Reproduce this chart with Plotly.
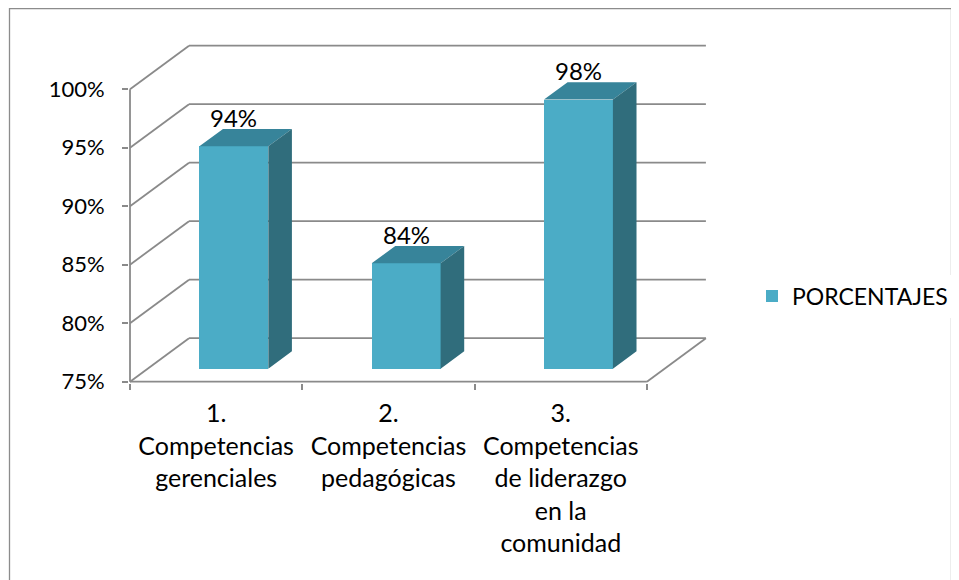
import plotly.graph_objects as go

# data
categorias = ["1.<br>Competencias<br>gerenciales",
              "2.<br>Competencias<br>pedagógicas",
              "3.<br>Competencias<br>de liderazgo<br>en la<br>comunidad"]
porcentajes = [94, 84, 98]
ticks_y = [75, 80, 85, 90, 95, 100]
serie = "PORCENTAJES"

# the page body has an 8px margin; targets below are in window px
OFF = 8
W, H = 959 - OFF, 580 - OFF
L, T = 129 - OFF, 40 - OFF
R = W - (709 - OFF)
B = H - (383 - OFF)
PX_X = 172.3          # px per category
PX_Y = 11.70          # px per percent point
FRONT_X0, FRONT_Y0 = 130.0 - OFF, 381.7 - OFF   # px where (0, 75) sits
DX = 59 / PX_X        # depth shift, x units
DY = 43.5 / PX_Y      # depth shift, percent units
D0, D1 = 0.3, 0.7     # bar depth (front, back)
BW = 0.4              # bar width

xr0 = (L - FRONT_X0) / PX_X
xr1 = xr0 + (W - L - R) / PX_X
yr0 = 75 - ((H - B) - FRONT_Y0) / PX_Y
yr1 = yr0 + (H - T - B) / PX_Y

FRONT = "#4BACC6"
TOP = "#37849A"
SIDE = "#306D7C"
GRID = "#8A8A8A"
LW = 1.8
FONT = "Lato"
FS = 24

n = len(porcentajes)
base = ticks_y[0]

fig = go.Figure()

# front faces
fig.add_trace(go.Bar(
    x=[i + 0.5 + D0 * DX for i in range(n)],
    y=[v - base for v in porcentajes],
    base=base + D0 * DY,
    width=BW,
    marker=dict(color=FRONT, line=dict(width=0)),
    name=serie,
    showlegend=True,
    hoverinfo="skip",
))

# top and side faces
tx, ty, sx, sy = [], [], [], []
for i, v in enumerate(porcentajes):
    x0, x1 = i + 0.5 - BW / 2, i + 0.5 + BW / 2
    tx += [x0 + D0 * DX, x1 + D0 * DX, x1 + D1 * DX, x0 + D1 * DX, x0 + D0 * DX, None]
    ty += [v + D0 * DY, v + D0 * DY, v + D1 * DY, v + D1 * DY, v + D0 * DY, None]
    sx += [x1 + D0 * DX, x1 + D1 * DX, x1 + D1 * DX, x1 + D0 * DX, x1 + D0 * DX, None]
    sy += [base + D0 * DY, base + D1 * DY, v + D1 * DY, v + D0 * DY, base + D0 * DY, None]
fig.add_trace(go.Scatter(x=tx, y=ty, fill="toself", fillcolor=TOP, mode="lines",
                         line=dict(width=0, color=TOP), showlegend=False, hoverinfo="skip"))
fig.add_trace(go.Scatter(x=sx, y=sy, fill="toself", fillcolor=SIDE, mode="lines",
                         line=dict(width=0, color=SIDE), showlegend=False, hoverinfo="skip"))

# walls and floor
shapes = []
line = dict(color=GRID, width=LW)
for t in ticks_y:
    shapes.append(dict(type="line", xref="x", yref="y", x0=0, y0=t, x1=DX, y1=t + DY, line=line, layer="below"))
    shapes.append(dict(type="line", xref="x", yref="y", x0=DX, y0=t + DY, x1=n + DX, y1=t + DY, line=line, layer="below"))
shapes.append(dict(type="line", xref="x", yref="y", x0=0, y0=base, x1=0, y1=ticks_y[-1], line=line, layer="below"))
shapes.append(dict(type="line", xref="x", yref="y", x0=0, y0=base, x1=n, y1=base, line=line, layer="below"))
shapes.append(dict(type="line", xref="x", yref="y", x0=n, y0=base, x1=n + DX, y1=base + DY, line=line, layer="below"))

# chart border
pw, ph = W - L - R, H - T - B
shapes.append(dict(type="rect", xref="paper", yref="paper",
                   x0=(9.5 - OFF - L) / pw, x1=(951.5 - OFF - L) / pw,
                   y0=(H - B - 600) / ph, y1=(H - B - (8.5 - OFF)) / ph,
                   line=dict(color="#8C8C8C", width=1.3), fillcolor="rgba(0,0,0,0)", layer="below"))

# value labels
for i, v in enumerate(porcentajes):
    fig.add_annotation(x=i + 0.5 + D0 * DX, y=v + D1 * DY, text=f"{v}%", showarrow=False,
                       yanchor="bottom", xanchor="center", yshift=-5,
                       font=dict(family=FONT, size=FS, color="black"))

fig.update_layout(
    width=W, height=H,
    margin=dict(l=L, r=R, t=T, b=B, autoexpand=False),
    paper_bgcolor="white", plot_bgcolor="white",
    shapes=shapes,
    font=dict(family=FONT, size=FS, color="black"),
    bargap=0,
    legend=dict(x=(752 - OFF - L) / pw, y=(H - B - (296 - OFF)) / ph, xanchor="left", yanchor="middle",
                font=dict(family=FONT, size=23, color="black")),
    xaxis=dict(range=[xr0, xr1], tickvals=[i + 0.5 for i in range(n)], ticktext=categorias,
               ticks="", showgrid=False, zeroline=False, showline=False, automargin=False,
               ticklabelstandoff=13, tickfont=dict(family=FONT, size=25, color="black"),
               minor=dict(tickmode="array", tickvals=list(range(n + 1)), ticks="outside",
                          ticklen=6, tickwidth=LW, tickcolor=GRID, showgrid=False)),
    yaxis=dict(range=[yr0, yr1], tickvals=ticks_y, ticktext=[f"{t}%" for t in ticks_y],
               ticks="outside", ticklen=6, tickwidth=LW, tickcolor=GRID, automargin=False,
               ticklabelstandoff=13, tickfont=dict(family=FONT, size=22, color="black"),
               showgrid=False, zeroline=False, showline=False),
)

fig.write_html("out.html")
